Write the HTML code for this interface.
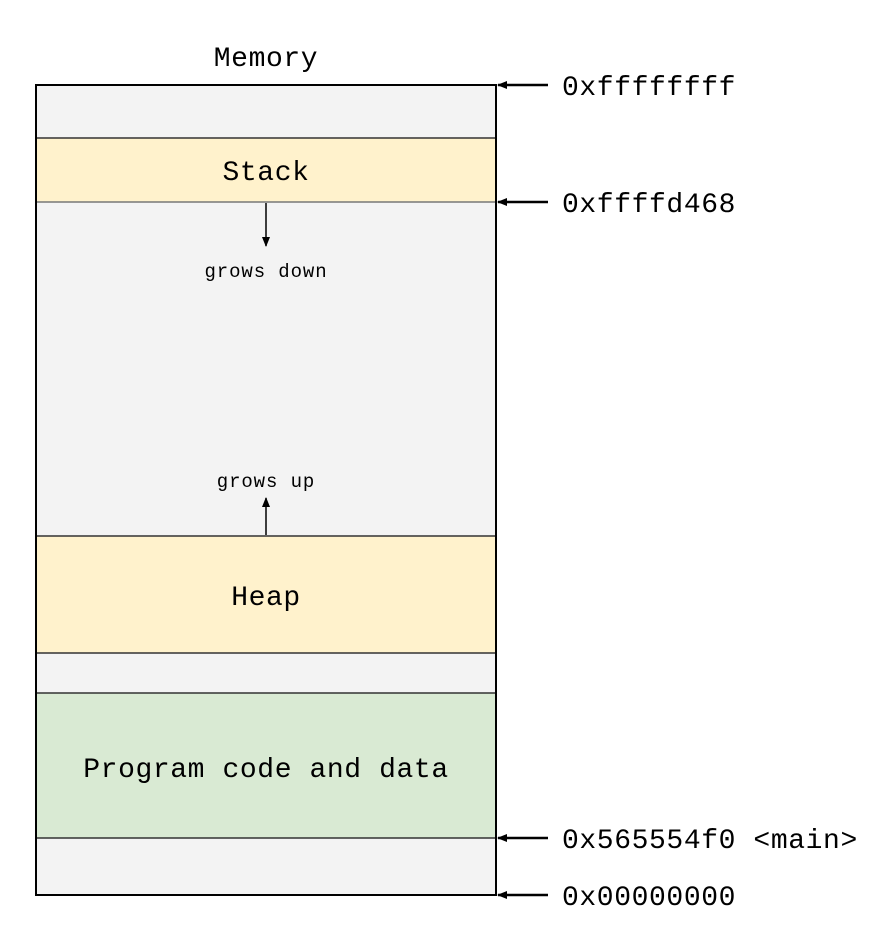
<!DOCTYPE html>
<html><head><style>
html,body{margin:0;padding:0;background:#fff;}
svg{display:block;}
text{font-family:"Liberation Mono",monospace;fill:#000;}
</style></head><body>
<svg width="880" height="937" viewBox="0 0 880 937" xmlns="http://www.w3.org/2000/svg">
<defs>
<marker id="ah" markerWidth="10" markerHeight="8" refX="9" refY="4" orient="auto" markerUnits="userSpaceOnUse">
<path d="M0,0 L10,4 L0,8 z" fill="#000"/>
</marker>
</defs>
<rect x="36" y="85" width="460" height="810" fill="#f3f3f3"/>
<rect x="36" y="138" width="460" height="64" fill="#fff2cc"/>
<rect x="36" y="536" width="460" height="117" fill="#fff2cc"/>
<rect x="36" y="693" width="460" height="145" fill="#d9ead3"/>
<g stroke="#333" stroke-width="1.5" fill="none">
<line x1="36" y1="138" x2="496" y2="138"/>
<line x1="36" y1="202" x2="496" y2="202" stroke="#777"/>
<line x1="36" y1="536" x2="496" y2="536"/>
<line x1="36" y1="653" x2="496" y2="653"/>
<line x1="36" y1="693" x2="496" y2="693"/>
<line x1="36" y1="838" x2="496" y2="838"/>
</g>
<rect x="36" y="85" width="460" height="810" fill="none" stroke="#000" stroke-width="2"/>
<g stroke="#000" stroke-width="1.5">
<line x1="266" y1="203" x2="266" y2="246" marker-end="url(#ah)"/>
<line x1="266" y1="535" x2="266" y2="498" marker-end="url(#ah)"/>
<line x1="548" y1="85" x2="498" y2="85" stroke-width="2.5" marker-end="url(#ah)"/>
<line x1="548" y1="202" x2="498" y2="202" stroke-width="2.5" marker-end="url(#ah)"/>
<line x1="548" y1="838" x2="498" y2="838" stroke-width="2.5" marker-end="url(#ah)"/>
<line x1="548" y1="895" x2="498" y2="895" stroke-width="2.5" marker-end="url(#ah)"/>
</g>
<g font-size="28" style="letter-spacing:0.6px">
<text x="266" y="66" text-anchor="middle">Memory</text>
<text x="266" y="180" text-anchor="middle">Stack</text>
<text x="266" y="605" text-anchor="middle">Heap</text>
<text x="266" y="777" text-anchor="middle">Program code and data</text>
<text x="562" y="95">0xffffffff</text>
<text x="562" y="212">0xffffd468</text>
<text x="562" y="848">0x565554f0 &lt;main&gt;</text>
<text x="562" y="905">0x00000000</text>
</g>
<g font-size="19" style="letter-spacing:0.9px">
<text x="266" y="277" text-anchor="middle">grows down</text>
<text x="266" y="487" text-anchor="middle">grows up</text>
</g>
</svg>
</body></html>
